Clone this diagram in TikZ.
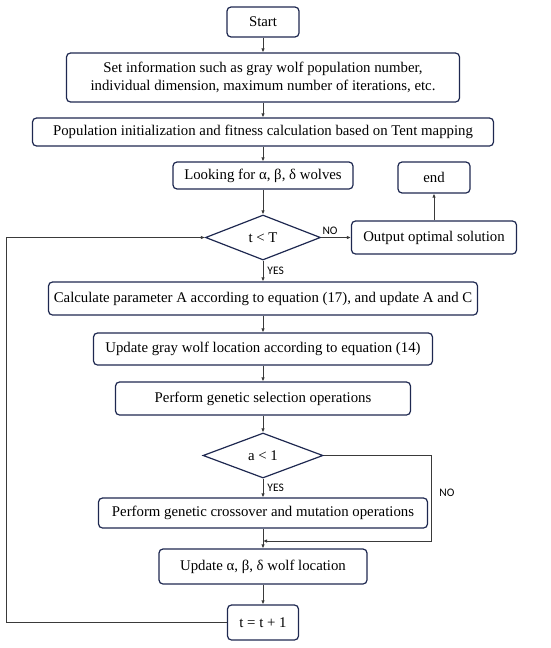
\documentclass[tikz,border=0pt]{standalone}
\usepackage{fontspec}
\setmainfont{Liberation Serif}
\newfontfamily\labfont{Carlito}
\usetikzlibrary{shapes.geometric,arrows.meta}
\definecolor{navy}{HTML}{1E2850}
\definecolor{conn}{HTML}{3A3A3A}
\tikzset{
  box/.style={draw=navy, line width=1.2pt, rounded corners=4pt, align=center, inner sep=0pt, font=\fontsize{14.8}{18}\selectfont},
  dec/.style={draw=navy, line width=1.2pt, diamond, inner sep=0pt, font=\fontsize{14.8}{18}\selectfont},
  arr/.style={draw=conn, line width=0.8pt, -{Latex[length=4pt,width=3.5pt]}},
  lab/.style={font=\labfont\fontsize{11.5}{13}\selectfont, inner sep=0pt}
}
\begin{document}
\begin{tikzpicture}[x=1pt,y=-1pt]
\useasboundingbox (0,0) rectangle (550,648);
\node[box, minimum width=72, minimum height=30] (start) at (263,22) {Start};
\node[box, minimum width=393, minimum height=49] (set) at (263,77.5) {Set information such as gray wolf population number,\\individual dimension, maximum number of iterations, etc.};
\node[box, minimum width=461, minimum height=28] (pop) at (263,132) {Population initialization and fitness calculation based on Tent mapping};
\node[box, minimum width=180, minimum height=27] (look) at (263,175.5) {Looking for α, β, δ wolves};
\node[box, minimum width=72, minimum height=31] (end) at (434,177.5) {end};
\node[dec, minimum width=115, minimum height=45] (d1) at (263,237.5) {t < T};
\node[box, minimum width=165, minimum height=33] (out) at (434,237.5) {Output optimal solution};
\node[box, minimum width=429, minimum height=33] (calc) at (263,298.5) {Calculate parameter A according to equation (17), and update A and C};
\node[box, minimum width=339, minimum height=32] (upd) at (263,349) {Update gray wolf location according to equation (14)};
\node[box, minimum width=295, minimum height=33] (sel) at (263,398.5) {Perform genetic selection operations};
\node[dec, minimum width=120, minimum height=45] (d2) at (263,455.5) {a < 1};
\node[box, minimum width=329, minimum height=30] (cross) at (263,513) {Perform genetic crossover and mutation operations};
\node[box, minimum width=208, minimum height=35] (ua) at (263,566.5) {Update α, β, δ wolf location};
\node[box, minimum width=71, minimum height=35] (inc) at (263,622.5) {t = t + 1};
\coordinate (lx) at (6,237.5);
\coordinate (nx) at (431,541);
\coordinate (mj) at (263,541);
\draw[arr] (start) -- (set);
\draw[arr] (set) -- (pop);
\draw[arr] (pop) -- (look);
\draw[arr] (look) -- (d1);
\draw[arr] (d1) -- (out) node[lab, pos=0.3, above=3pt] {NO};
\draw[arr] (out) -- (end);
\draw[arr] (d1) -- (calc) node[lab, midway, right=4pt] {YES};
\draw[arr] (calc) -- (upd);
\draw[arr] (upd) -- (sel);
\draw[arr] (sel) -- (d2);
\draw[arr] (d2) -- (cross) node[lab, midway, right=4pt] {YES};
\draw[arr] (cross) -- (ua);
\draw[arr] (ua) -- (inc);
\draw[arr] (d2.east) -| (nx) node[lab, pos=0.72, right=8pt] {NO} -- (mj);
\draw[arr] (inc.west) -| (lx) -- (d1.west);
\end{tikzpicture}
\end{document}
